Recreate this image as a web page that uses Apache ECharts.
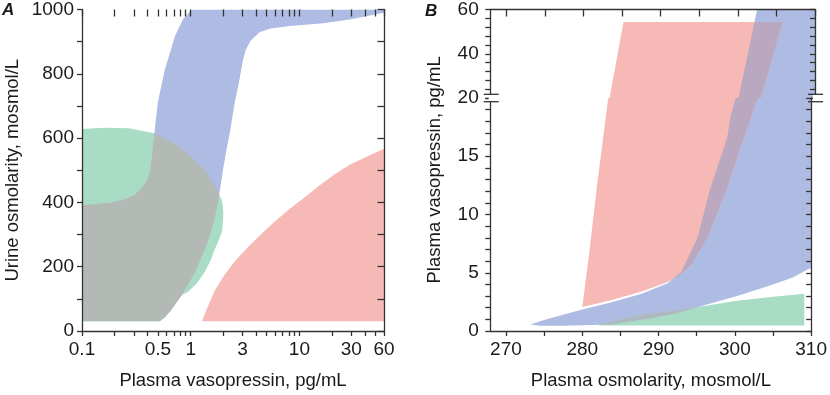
<!DOCTYPE html>
<html><head><meta charset="utf-8">
<script src="https://cdn.jsdelivr.net/npm/echarts@6/dist/echarts.min.js"></script>
<style>html,body{margin:0;padding:0;background:#fff}#c{width:830px;height:395px}</style>
</head><body><div id="c"></div>
<script>
// ---------- Panel A (x: plasma vasopressin pg/mL, log; y: urine osmolarity) ----------
const aXTicks = [0.1,0.2,0.3,0.4,0.5,0.6,0.7,0.8,0.9,1,2,3,4,5,6,7,8,9,10,20,30,40,50,60];
const aXLabels = [0.1,0.5,1,3,10,30,60];
const aYLabels = [0,200,400,600,800,1000];
// blue band (normal response)
const aBlue = [[0.1,30],[0.52,30],[0.58,42],[0.645,61],[0.83,112],[1.1,184],[1.35,255],[1.56,316],[1.73,378],
  [1.86,440],[1.98,500],[2.12,560],[2.3,620],[2.55,714],[2.75,765],[3.0,837],[3.2,873],[3.55,903],[4.3,929],
  [5.4,941],[8.2,949],[16.6,957],[29,969],[60,990],[60,1000],[1.02,1000],[0.85,970],[0.72,919],[0.58,815],
  [0.5,714],[0.475,650],[0.455,590],[0.44,540],[0.425,500],[0.4,470],[0.36,448],[0.31,425],[0.25,410],[0.18,398],[0.1,391]];
// green region
const aGreen = [[0.1,30],[0.52,30],[0.645,61],[0.83,112],[0.95,122],[1.15,150],[1.35,184],[1.55,225],[1.67,255],
  [1.85,290],[1.93,306],[1.98,340],[1.995,367],[1.97,390],[1.93,408],[1.8,430],[1.67,449],[1.35,500],[1.02,541],
  [0.72,582],[0.47,614],[0.27,631],[0.16,632],[0.1,628]];
// red region
const aRed = [[1.27,30],[1.44,77],[1.67,126],[2.02,172],[2.56,218],[3.3,258],[4.34,298],[5.97,341],[8.2,381],
  [11.3,417],[15.5,454],[21.3,488],[29.2,518],[41.9,543],[60,567],[60,30]];

// ---------- Panel B (x: plasma osmolarity; y: plasma vasopressin, broken axis) ----------
const bXTicks = [270,275,280,285,290,295,300,305,310];
const bXLabels = [270,280,290,300,310];
const bYLowLabels = [0,5,10,15,20];
const bYHighLabels = [40,60];
const bBlue = [[273.2,0.55],[275,0.95],[277,1.3],[280,1.85],[283.5,2.4],[287.8,3.2],[291.2,4.1],[293,5.1],
  [295.1,8.0],[296.8,12.3],[299,16.6],[299.4,18.3],[300.1,20],[302.5,60],[310,60],[310,5.4],[309.6,5.3],
  [307.6,4.6],[304.6,3.9],[300.3,3.0],[296,2.2],[292,1.45],[289,1.1],[286,0.8],[283.9,0.55],[277.4,0.45],[274.5,0.45]];
const bRed = [[280,2.05],[283.5,2.6],[287.8,3.4],[291.2,4.2],[292.5,4.7],[294.2,5.6],[296.4,8.0],[299,12.3],
  [301.2,16.6],[303,20],[305.8,54.3],[285.2,54.3],[283.4,20],[281.9,12.3],[280.9,6.6]];
const bGreen = [[282,0.48],[309.1,0.48],[309.1,3.2],[305,2.95],[300.3,2.6],[296,2.15],[292,1.75],[289,1.5],
  [286,1.15],[283.5,0.75]];

const C = {green:'#a9dcc4', blue:'#aebbe3', red:'#f7b9b5', grayA:'#b3bab5', grayB:'#adb8c0', mauve:'#baa8c0'};
const FONT = 'Liberation Sans';
const ink = '#1a1a1a';
const lg = v => Math.log10(v);
const id = v => v;

// keep the part of a polygon whose y lies in [lo, hi] (one half-plane at a time)
function cutY(pts, lim, keepAbove) {
  const inside = p => keepAbove ? p[1] >= lim : p[1] <= lim;
  const out = [];
  for (let i = 0; i < pts.length; i++) {
    const a = pts[i], b = pts[(i + 1) % pts.length];
    const ia = inside(a), ib = inside(b);
    if (ia) out.push(a);
    if (ia !== ib && a[1] !== lim && b[1] !== lim) {
      const t = (lim - a[1]) / (b[1] - a[1]);
      out.push([a[0] + t * (b[0] - a[0]), lim]);
    }
  }
  return out;
}
function part(pts, yr) { return yr ? cutY(cutY(pts, yr[0], true), yr[1], false) : pts; }

function poly(pts, color, xi, yi, tx, clipPts, z, yr) {
  const own = part(pts, yr), clip = clipPts ? part(clipPts, yr) : null;
  return {
    type: 'custom', xAxisIndex: xi, yAxisIndex: yi, clip: true, silent: true, z: z || 2,
    data: [[tx(own[0][0]), own[0][1]]],
    renderItem: function (params, api) {
      const toPx = p => api.coord([tx(p[0]), p[1]]);
      const el = {type: 'polygon', shape: {points: own.map(toPx)}, style: {fill: color}};
      if (clip) el.clipPath = {type: 'polygon', shape: {points: clip.map(toPx)}};
      return el;
    }
  };
}

const L = {aL:82, aT:7, aW:302, aH:326.3, bL:490.7, bW:324.3, bUT:6.5, bUH:91.5, bLT:98, bLH:235.3};
const axisLine = {show:true, onZero:false, lineStyle:{color:'#333', width:1.3}};
const tickStyle = {color:'#333', width:1.3};
const lblStyle = {color: ink, fontSize: 19, fontFamily: FONT};
const nameStyle = {color: ink, fontSize: 18.5, fontFamily: FONT};
const fmtA = v => String(parseFloat(Math.pow(10, v).toPrecision(3)));
const fmtPlain = v => String(v);
const UP = [20, 60], LO = [0, 20];

const option = {
  animation: false,
  textStyle: {fontFamily: FONT},
  grid: [
    {left: L.aL, top: L.aT, width: L.aW, height: L.aH},
    {left: L.bL, top: L.bUT, width: L.bW, height: L.bUH},
    {left: L.bL, top: L.bLT, width: L.bW, height: L.bLH}
  ],
  xAxis: [
    {gridIndex:0, z:10, type:'value', position:'bottom', min: lg(0.1), max: lg(60), axisLine,
     axisTick:{show:true, length:5, lineStyle:tickStyle, customValues: aXTicks.map(lg)},
     axisLabel:{...lblStyle, margin:9, customValues: aXLabels.map(lg), formatter: fmtA},
     splitLine:{show:false}, name:'Plasma vasopressin, pg/mL', nameLocation:'middle', nameGap:40, nameTextStyle:nameStyle},
    {gridIndex:0, z:10, type:'value', position:'top', min: lg(0.1), max: lg(60), axisLine:{show:false, onZero:false},
     axisTick:{show:true, inside:true, length:7, lineStyle:tickStyle, customValues: aXTicks.map(lg)},
     axisLabel:{show:false}, splitLine:{show:false}},
    {gridIndex:1, z:10, type:'value', position:'top', min:268, max:310, axisLine,
     axisTick:{show:true, inside:true, length:7, lineStyle:tickStyle, customValues: bXTicks},
     axisLabel:{show:false}, splitLine:{show:false}},
    {gridIndex:2, z:10, type:'value', position:'bottom', min:268, max:310, axisLine,
     axisTick:{show:true, length:5, lineStyle:tickStyle, customValues: bXTicks},
     axisLabel:{...lblStyle, margin:9, customValues: bXLabels, formatter: fmtPlain},
     splitLine:{show:false}, name:'Plasma osmolarity, mosmol/L', nameLocation:'middle', nameGap:40, nameTextStyle:nameStyle}
  ],
  yAxis: [
    {gridIndex:0, z:10, type:'value', position:'left', min:0, max:1000, interval:100, axisLine,
     axisTick:{show:true, length:5, lineStyle:tickStyle},
     axisLabel:{...lblStyle, margin:8, customValues: aYLabels, formatter: fmtPlain},
     splitLine:{show:false}, name:'Urine osmolarity, mosmol/L', nameLocation:'middle', nameGap:60, nameTextStyle:nameStyle},
    {gridIndex:0, z:10, type:'value', position:'right', min:0, max:1000, interval:100, axisLine,
     axisTick:{show:true, inside:true, length:6.5, lineStyle:tickStyle}, axisLabel:{show:false}, splitLine:{show:false}},
    {gridIndex:1, z:10, type:'value', position:'left', min:20, max:60, interval:4, axisLine,
     axisTick:{show:true, length:5.5, lineStyle:tickStyle},
     axisLabel:{...lblStyle, margin:12, customValues: bYHighLabels, formatter: fmtPlain}, splitLine:{show:false}},
    {gridIndex:1, z:10, type:'value', position:'right', min:20, max:60, interval:4, axisLine,
     axisTick:{show:true, inside:true, length:5, lineStyle:tickStyle}, axisLabel:{show:false}, splitLine:{show:false}},
    {gridIndex:2, z:10, type:'value', position:'left', min:0, max:20, interval:1, axisLine,
     axisTick:{show:true, length:5.5, lineStyle:tickStyle},
     axisLabel:{...lblStyle, margin:12, customValues: bYLowLabels, formatter: fmtPlain}, splitLine:{show:false}},
    {gridIndex:2, z:10, type:'value', position:'right', min:0, max:20, interval:1, axisLine,
     axisTick:{show:true, inside:true, length:5, lineStyle:tickStyle}, axisLabel:{show:false}, splitLine:{show:false}}
  ],
  series: [
    poly(aGreen, C.green, 0, 0, lg, null, 2),
    poly(aBlue, C.blue, 0, 0, lg, null, 3),
    poly(aBlue, C.grayA, 0, 0, lg, aGreen, 4),
    poly(aRed, C.red, 0, 0, lg, null, 3),
    // B upper grid (20-60)
    poly(bBlue, C.blue, 2, 2, id, null, 2, UP),
    poly(bRed, C.red, 2, 2, id, null, 3, UP),
    poly(bRed, C.mauve, 2, 2, id, bBlue, 4, UP),
    // B lower grid (0-20)
    poly(bBlue, C.blue, 3, 4, id, null, 2, LO),
    poly(bGreen, C.green, 3, 4, id, null, 3, LO),
    poly(bGreen, C.grayB, 3, 4, id, bBlue, 4, LO),
    poly(bRed, C.red, 3, 4, id, null, 3, LO),
    poly(bRed, C.mauve, 3, 4, id, bBlue, 4, LO)
  ],
  graphic: [
    {type:'text', left: 2, top: 2, style:{text:'A', font:'italic bold 17px ' + FONT, fill: ink}},
    {type:'text', left: 425, top: 3, style:{text:'B', font:'italic bold 17px ' + FONT, fill: ink}},
    {type:'text', x: 435, y: (L.bUT + L.bLT + L.bLH) / 2, rotation: Math.PI / 2,
     style:{text:'Plasma vasopressin, pg/mL', fontSize:18.5, fontFamily:FONT, fill: ink, align:'center', verticalAlign:'middle'}},
    // axis break: white gap over axis lines, then two marks
    {type:'rect', z:100, shape:{x:L.bL-2, y:L.bLT-3, width:4, height:6}, style:{fill:'#fff'}},
    {type:'rect', z:100, shape:{x:L.bL+L.bW-2, y:L.bLT-3, width:4, height:6}, style:{fill:'#fff'}},
    {type:'line', z:101, shape:{x1:L.bL-7, y1:L.bLT-3.7, x2:L.bL+8, y2:L.bLT-3.7}, style:{stroke:'#333', lineWidth:1.3}},
    {type:'line', z:101, shape:{x1:L.bL-7, y1:L.bLT+3.7, x2:L.bL+8, y2:L.bLT+3.7}, style:{stroke:'#333', lineWidth:1.3}},
    {type:'line', z:101, shape:{x1:L.bL+L.bW-7, y1:L.bLT-3.7, x2:L.bL+L.bW+8, y2:L.bLT-3.7}, style:{stroke:'#333', lineWidth:1.3}},
    {type:'line', z:101, shape:{x1:L.bL+L.bW-7, y1:L.bLT+3.7, x2:L.bL+L.bW+8, y2:L.bLT+3.7}, style:{stroke:'#333', lineWidth:1.3}}
  ]
};
const chart = echarts.init(document.getElementById('c'), null, {renderer:'canvas'});
chart.setOption(option);
</script></body></html>
